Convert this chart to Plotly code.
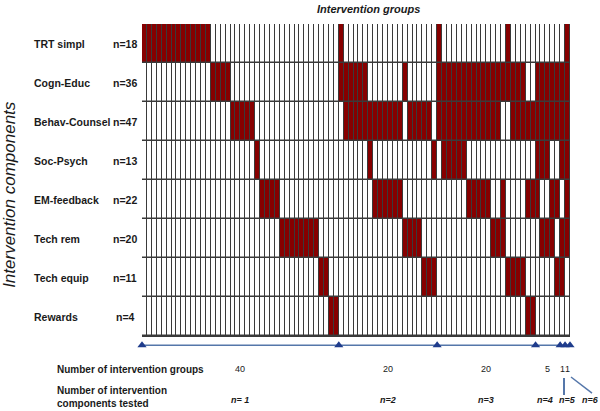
import plotly.graph_objects as go

# row labels and how many intervention groups used each component
components = ["TRT simpl", "Cogn-Educ", "Behav-Counsel", "Soc-Psych",
              "EM-feedback", "Tech rem", "Tech equip", "Rewards"]
component_n = [18, 36, 47, 13, 22, 20, 11, 4]

# intervention groups (1..87) in which each component is present
trt_simpl = [1, 2, 3, 4, 5, 6, 7, 8, 9, 10, 11, 12, 13, 14, 41, 61, 75, 87]
cogn_educ = [15, 16, 17, 18, 41, 42, 43, 44, 45, 46, 54,
             61, 62, 63, 64, 65, 66, 67, 68, 69, 70, 71, 72, 73, 74, 75, 76, 77, 78,
             81, 82, 83, 84, 85, 86, 87]
behav_counsel = [19, 20, 21, 22, 23,
                 42, 43, 44, 45, 46, 47, 48, 49, 50, 51, 52, 53,
                 55, 56, 57, 58, 59,
                 61, 62, 63, 64, 65, 66, 67, 68, 69, 70, 71, 72, 73,
                 76, 77, 78, 79, 80, 81, 82, 83, 84, 85, 86, 87]
soc_psych = [24, 47, 60, 62, 63, 64, 65, 66, 81, 82, 83, 86, 87]
em_feedback = [25, 26, 27, 28, 48, 49, 50, 51, 52, 53, 67, 68, 69, 70, 71,
               74, 79, 80, 81, 84, 85, 87]
tech_rem = [29, 30, 31, 32, 33, 34, 35, 36, 54, 55, 56, 57, 72, 73, 74,
            82, 83, 84, 86, 87]
tech_equip = [37, 38, 58, 59, 60, 75, 76, 77, 78, 85, 86]
rewards = [39, 40, 79, 80]

# bottom summary
group_counts = [40, 20, 20, 5, 1, 1]
tested_labels = ["n= 1", "n=2", "n=3", "n=4", "n=5", "n=6"]

rows = [trt_simpl, cogn_educ, behav_counsel, soc_psych,
        em_feedback, tech_rem, tech_equip, rewards]
n_groups = sum(group_counts)
groups = list(range(1, n_groups + 1))
z = [[1 if g in r else 0 for g in groups] for r in rows]

RED = "#870000"
GRID = "#3a3a3a"
BLUE = "#5577aa"
FONT = "Arial, Liberation Sans, sans-serif"
TXT = "#1a1a1a"

# plot area (page pixels): x 142..570, y 24.3..350
X0, X1, Y0, Y1 = 142, 570, 24.3, 350.0


def px(x):
    return (x - X0) / (X1 - X0)


def py(y):
    return (Y1 - y) / (Y1 - Y0)


fig = go.Figure()
fig.add_trace(go.Heatmap(
    z=z, x=groups, y=list(range(len(components))),
    colorscale=[[0, "white"], [0.5, "white"], [0.5, RED], [1, RED]],
    zmin=0, zmax=1, showscale=False, xgap=1, ygap=1.5, hoverinfo="skip"))

# boundaries between groups of equal number of components tested
bounds = [0.5]
for c in group_counts:
    bounds.append(bounds[-1] + c)
fig.add_trace(go.Scatter(
    x=bounds, y=[7.73] * len(bounds), mode="lines+markers",
    line=dict(color=BLUE, width=1.5),
    marker=dict(symbol="triangle-up", size=8, color="#1f3c8c"),
    cliponaxis=False, hoverinfo="skip", showlegend=False))

ann = []
for i, (name, n) in enumerate(zip(components, component_n)):
    ann.append(dict(x=px(32), y=i, xref="paper", yref="y", text=f"<b>{name}</b>",
                    xanchor="left", yanchor="middle", showarrow=False,
                    font=dict(size=10.5, color=TXT, family=FONT)))
    ann.append(dict(x=px(125), y=i, xref="paper", yref="y", text=f"<b>n={n}</b>",
                    xanchor="center", yanchor="middle", showarrow=False,
                    font=dict(size=10.5, color=TXT, family=FONT)))

ann.append(dict(x=px(368), y=py(9), xref="paper", yref="paper",
                text="<b><i>Intervention groups</i></b>", showarrow=False,
                xanchor="center", yanchor="middle",
                font=dict(size=11, color=TXT, family=FONT)))
ann.append(dict(x=px(10), y=py(195), xref="paper", yref="paper",
                text="<i>Intervention components</i>", textangle=-90,
                xanchor="center", yanchor="middle", showarrow=False,
                font=dict(size=17, color=TXT, family=FONT)))

ann.append(dict(x=px(55), y=py(369), xref="paper", yref="paper",
                text="<b>Number of intervention groups</b>",
                xanchor="left", yanchor="middle", showarrow=False,
                font=dict(size=10, color=TXT, family=FONT)))
ann.append(dict(x=px(55), y=py(397), xref="paper", yref="paper",
                text="<b>Number of intervention<br>components tested</b>",
                xanchor="left", yanchor="middle", align="left", showarrow=False,
                font=dict(size=10, color=TXT, family=FONT)))

shifts = [0, 0, 0, -3, 5, 23]
for k, (c, lab) in enumerate(zip(group_counts, tested_labels)):
    mid = (bounds[k] + bounds[k + 1]) / 2
    ann.append(dict(x=mid, y=py(369), xref="x", yref="paper", text=str(c),
                    xanchor="center", yanchor="middle", showarrow=False,
                    font=dict(size=9, color=TXT, family=FONT)))
    ann.append(dict(x=mid, y=py(400), xref="x", yref="paper", xshift=shifts[k],
                    text=f"<b><i>{lab}</i></b>", xanchor="center", yanchor="middle",
                    showarrow=False, font=dict(size=9, color=TXT, family=FONT)))

fig.update_layout(
    width=600, height=411,
    margin=dict(l=X0, r=600 - X1, t=Y0, b=411 - Y1),
    paper_bgcolor="white", plot_bgcolor="white",
    xaxis=dict(range=[0.5, n_groups + 0.5], visible=False),
    yaxis=dict(range=[7.5 + (Y1 - Y0) / 39 - 8, -0.5], visible=False),
    annotations=ann, showlegend=False,
    shapes=[
        dict(type="rect", xref="x", yref="y", x0=0.5, x1=n_groups + 0.5,
             y0=-0.5, y1=7.5, layer="below", fillcolor=GRID,
             line=dict(color=GRID, width=1.5)),
        dict(type="line", xref="paper", yref="paper", x0=px(564), x1=px(564),
             y0=py(378), y1=py(395), line=dict(color=BLUE, width=2)),
        dict(type="line", xref="paper", yref="paper", x0=px(571), x1=px(592),
             y0=py(377), y1=py(393), line=dict(color=BLUE, width=1.5)),
    ],
)

# drop the default 8px page margin so the figure fills the window
fig.write_html("out.html", config={"displayModeBar": False},
               post_script="document.body.style.margin='0px';")
